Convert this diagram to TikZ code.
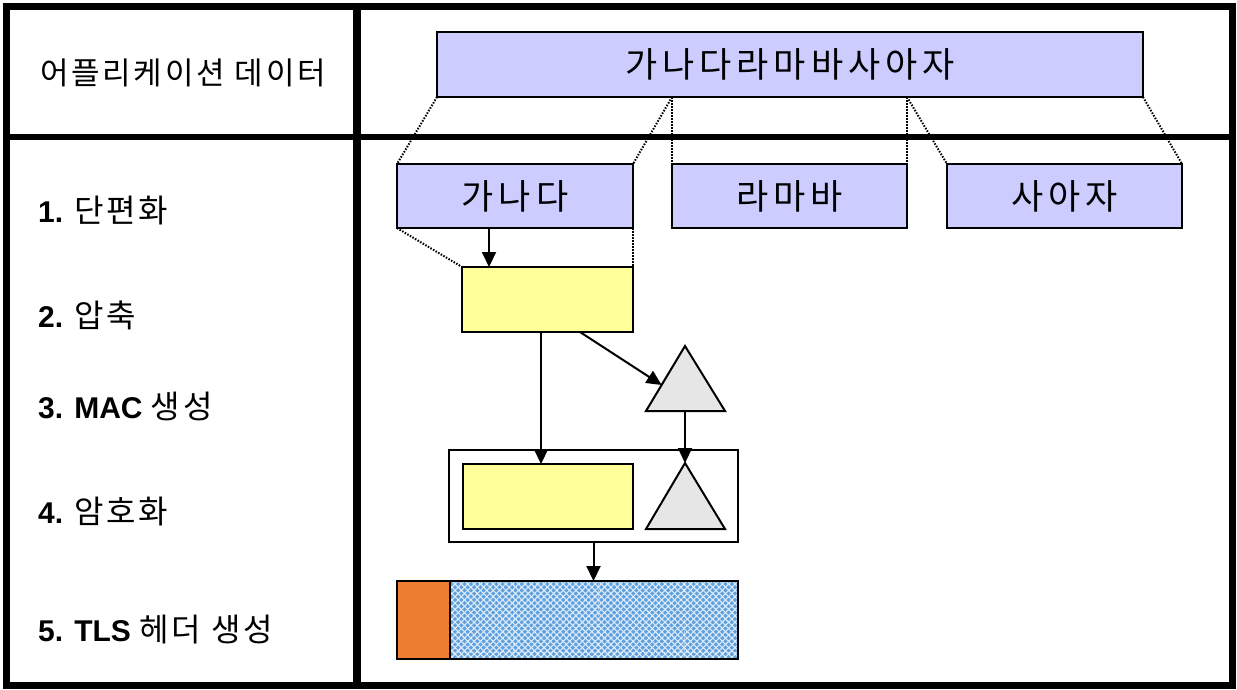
\documentclass[tikz,border=0pt]{standalone}
\usepackage{fontspec}
\setmainfont{Liberation Sans}
\newfontfamily\krbox[LetterSpace=14]{Noto Sans CJK KR}
\newfontfamily\krlab[LetterSpace=9]{Noto Sans CJK KR}
\newcommand{\kortxt}[1]{{\mdseries\fontsize{32}{36}\selectfont\krlab #1}}
\usetikzlibrary{arrows.meta,patterns,patterns.meta,calc}
\definecolor{lav}{RGB}{204,204,255}
\definecolor{yel}{RGB}{255,255,153}
\definecolor{tgray}{RGB}{230,230,230}
\definecolor{org}{RGB}{237,125,49}
\definecolor{pblue}{RGB}{95,160,222}
\begin{document}
\begin{tikzpicture}[x=1pt,y=-1pt,
  lavbox/.style={draw, line width=2pt, fill=lav, inner sep=0pt, outer sep=0pt,
    font=\fontsize{35}{40}\selectfont\krbox},
  yelbox/.style={draw, line width=2pt, fill=yel, inner sep=0pt, outer sep=0pt},
  tri/.style={draw, line width=2pt, fill=tgray, line join=miter},
  dots/.style={line width=2pt, dash pattern=on 1.5pt off 1.5pt},
  arr/.style={line width=2pt, -{Triangle[length=15pt,width=14pt]}},
  lab/.style={anchor=base west, inner sep=0pt, font=\fontsize{30}{34}\selectfont\bfseries},
  frame/.style={line width=7pt}
]
\useasboundingbox (0,0) rectangle (1237,689);
% frame
\draw[frame] (6,6) rectangle (1232,685);
\draw[line width=8pt] (357,6) -- (357,685);
\draw[line width=6pt] (6,137) -- (1232,137);

% left labels
\node[anchor=base, inner sep=0pt, font=\fontsize{31}{35}\selectfont\krlab] (appdata) at (183,84) {어플리케이션 데이터};
\node[lab] (l1) at (38,222) {1. \kortxt{단편화}};
\node[lab] (l2) at (38,327) {2. \kortxt{압축}};
\node[lab] (l3) at (38,418) {3. MAC \kortxt{생성}};
\node[lab] (l4) at (38,523) {4. \kortxt{암호화}};
\node[lab] (l5) at (38,641) {5. TLS \kortxt{헤더 생성}};

% data boxes
\node[lavbox, minimum width=706pt, minimum height=65pt] (big) at (790,64.5) {가나다라마바사아자};
\node[lavbox, minimum width=236pt, minimum height=64pt] (ganada) at (515,196) {가나다};
\node[lavbox, minimum width=235pt, minimum height=64pt] (ramaba) at (789.5,196) {라마바};
\node[lavbox, minimum width=235pt, minimum height=64pt] (sajja) at (1064.5,196) {사아자};

% dotted fragment guides
\draw[dots] (big.south west) -- (ganada.north west);
\draw[dots] (big.south -| ramaba.north west) -- (ganada.north east);
\draw[dots] (big.south -| ramaba.north west) -- (ramaba.north west);
\draw[dots] (big.south -| ramaba.north east) -- (ramaba.north east);
\draw[dots] (big.south -| ramaba.north east) -- (sajja.north west);
\draw[dots] (big.south east) -- (sajja.north east);

% compression
\node[yelbox, minimum width=171pt, minimum height=65pt] (y1) at (547.5,299.5) {};
\draw[dots] (ganada.south west) -- (y1.north west);
\draw[dots] (ganada.south east) -- (y1.north east);
\coordinate (a1) at ([xshift=92pt]ganada.south west);
\draw[arr] (a1) -- (a1 |- y1.north);

% MAC triangle
\coordinate (t1top) at (685,346);
\coordinate (t1bl) at (646,411);
\coordinate (t1br) at (725,411);
\coordinate (t1base) at (685,411);
\draw[tri] (t1top) -- (t1br) -- (t1bl) -- cycle;

% encryption box
\node[draw, line width=1.8pt, inner sep=0pt, outer sep=0pt, minimum width=289pt, minimum height=92pt] (enc) at (593.5,496) {};
\node[yelbox, minimum width=170pt, minimum height=65pt] (y2) at (548,496.5) {};
\coordinate (t2top) at (685,463);
\coordinate (t2bl) at (646,529);
\coordinate (t2br) at (725,529);
\draw[tri] (t2top) -- (t2br) -- (t2bl) -- cycle;

\coordinate (a2) at ([xshift=79pt]y1.south west);
\draw[arr] (a2) -- (a2 |- y2.north);
\coordinate (a3) at ([xshift=-53pt]y1.south east);
\draw[arr] (a3) -- ($(t1top)!0.6!(t1bl)$);
\draw[arr] (t1base) -- (t2top);

% TLS header
\node[draw, line width=2pt, fill=org, inner sep=0pt, outer sep=0pt, minimum width=53pt, minimum height=78pt] (hdr) at (423.5,620) {};
\fill[pblue] (450,581) rectangle (738,659);
\fill[pattern={Lines[angle=45,distance=4.5pt,line width=1.1pt]}, pattern color=white!80!pblue] (450,581) rectangle (738,659);
\fill[pattern={Lines[angle=-45,distance=4.5pt,line width=1.1pt]}, pattern color=white!80!pblue] (450,581) rectangle (738,659);
\draw[white, opacity=0.5, line width=0.6pt, dashed] (513,583) -- (513,657) (598,583) -- (598,657) (684,583) -- (684,657) (452,652) -- (736,652);
\node[draw, line width=2pt, inner sep=0pt, outer sep=0pt, minimum width=288pt, minimum height=78pt] (payload) at (594,620) {};
\draw[arr] (enc.south) -- (enc.south |- payload.north);
\end{tikzpicture}
\end{document}
